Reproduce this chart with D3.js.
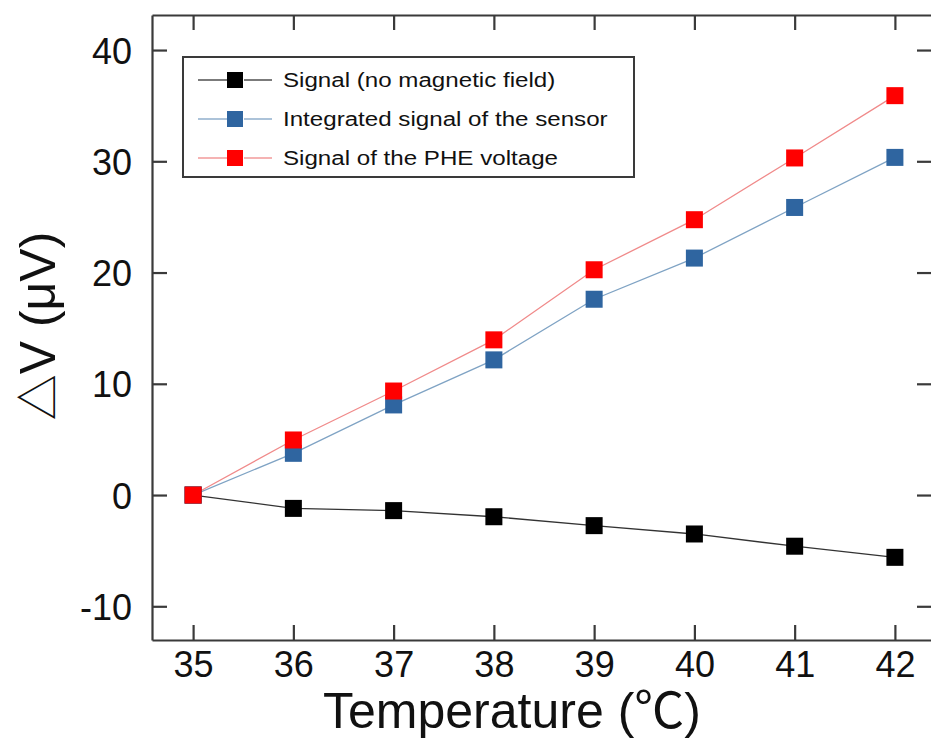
<!DOCTYPE html>
<html>
<head>
<meta charset="utf-8">
<script src="https://cdn.jsdelivr.net/npm/d3@7"></script>
<style>
  body { margin: 0; background: #fff; }
  svg { display: block; }
  text { font-family: "Liberation Sans", Arial, sans-serif; fill: #111; }
  .cjk { font-family: "Noto Sans CJK SC", "DejaVu Sans", sans-serif; }
</style>
</head>
<body>
<div id="chart"></div>
<script>
let temps = [35, 36, 37, 38, 39, 40, 41, 42];
let noField = [0, -1.2, -1.4, -1.95, -2.75, -3.5, -4.6, -5.6];
let sensor = [0, 3.75, 8.1, 12.15, 17.6, 21.3, 25.85, 30.35];
let phe = [0, 4.95, 9.35, 13.95, 20.25, 24.75, 30.3, 35.9];
let xTicks = [35, 36, 37, 38, 39, 40, 41, 42];
let yTicks = [-10, 0, 10, 20, 30, 40];
let seriesNames = ["Signal (no magnetic field)", "Integrated signal of the sensor", "Signal of the PHE voltage"];

let series = [
    {name: seriesNames[0], values: noField, marker: "#000000", line: "#333333"},
    {name: seriesNames[1], values: sensor, marker: "#2f65a0", line: "#7fa3c4"},
    {name: seriesNames[2], values: phe, marker: "#ff0000", line: "#f08a8a"}
];

const W = 931, H = 742;
const plot = {left: 152, right: 932, top: 15, bottom: 640};

let svg = d3.select("#chart").append("svg")
    .attr("width", W)
    .attr("height", H);

svg.append("rect").attr("width", W).attr("height", H).attr("fill", "#fff");

const x = d3.scaleLinear().domain([34.59, 42.37]).range([plot.left, plot.right]);
const y = d3.scaleLinear().domain([-13.03, 43.15]).range([plot.bottom, plot.top]);

const axisColor = "#3a3a3a";
const tickLen = 15;
const plain = function (d) { return String(d); };

// frame axes, ticks pointing inward
let gx = svg.append("g")
    .attr("transform", "translate(0," + plot.bottom + ")")
    .call(d3.axisBottom(x).tickValues(xTicks).tickFormat(plain).tickSizeInner(-tickLen).tickSizeOuter(0).tickPadding(11));
let gxTop = svg.append("g")
    .attr("transform", "translate(0," + plot.top + ")")
    .call(d3.axisTop(x).tickValues(xTicks).tickSizeInner(-tickLen).tickSizeOuter(0).tickFormat(""));
let gy = svg.append("g")
    .attr("transform", "translate(" + plot.left + ",0)")
    .call(d3.axisLeft(y).tickValues(yTicks).tickFormat(plain).tickSizeInner(-tickLen).tickSizeOuter(0).tickPadding(20));
let gyRight = svg.append("g")
    .attr("transform", "translate(" + plot.right + ",0)")
    .call(d3.axisRight(y).tickValues(yTicks).tickSizeInner(-tickLen).tickSizeOuter(0).tickFormat(""));

[gx, gxTop, gy, gyRight].forEach(function (g) {
    g.select(".domain").attr("stroke", axisColor).attr("stroke-width", 2.2);
    g.selectAll(".tick line").attr("stroke", axisColor).attr("stroke-width", 2.2);
});

gx.selectAll(".tick text")
    .attr("font-size", 36)
    .attr("fill", "#111")
    .attr("font-family", "Liberation Sans, Arial, sans-serif");
gy.selectAll(".tick text")
    .attr("font-size", 36)
    .attr("fill", "#111")
    .attr("dy", "0.36em")
    .attr("font-family", "Liberation Sans, Arial, sans-serif");

// axis titles
let xTitle = svg.append("text")
    .attr("x", 512)
    .attr("y", 728)
    .attr("text-anchor", "middle")
    .attr("font-size", 50);
xTitle.append("tspan").text("Temperature (");
xTitle.append("tspan").attr("class", "cjk").text("℃");
xTitle.append("tspan").text(")");

let yTitle = svg.append("text")
    .attr("transform", "translate(55,326) rotate(-90)")
    .attr("text-anchor", "middle")
    .attr("font-size", 50);
yTitle.append("tspan").attr("class", "cjk").attr("font-size", 46).text("△");
yTitle.append("tspan").text("V  (μV)");

// lines and markers
const line = d3.line()
    .x(function (d, i) { return x(temps[i]); })
    .y(function (d) { return y(d); });

const ms = 17;
series.forEach(function (s) {
    svg.append("path")
        .datum(s.values)
        .attr("fill", "none")
        .attr("stroke", s.line)
        .attr("stroke-width", 1.3)
        .attr("d", line);
});
series.forEach(function (s) {
    svg.append("g").selectAll("rect")
        .data(s.values)
        .enter().append("rect")
        .attr("x", function (d, i) { return x(temps[i]) - ms / 2; })
        .attr("y", function (d) { return y(d) - ms / 2; })
        .attr("width", ms)
        .attr("height", ms)
        .attr("fill", s.marker);
});

// legend
let legend = svg.append("g").attr("transform", "translate(183,57)");
legend.append("rect")
    .attr("width", 451)
    .attr("height", 120)
    .attr("fill", "#fff")
    .attr("stroke", axisColor)
    .attr("stroke-width", 2);
series.forEach(function (s, i) {
    let row = legend.append("g").attr("transform", "translate(0," + (23 + i * 39) + ")");
    row.append("line").attr("x1", 15).attr("x2", 44).attr("stroke", s.line).attr("stroke-width", 1.3);
    row.append("line").attr("x1", 61).attr("x2", 89).attr("stroke", s.line).attr("stroke-width", 1.3);
    row.append("rect").attr("x", 44).attr("y", -8).attr("width", 16).attr("height", 16).attr("fill", s.marker);
    row.append("text")
        .attr("transform", "translate(100,7) scale(1.15,1)")
        .attr("font-size", 21)
        .text(s.name);
});
</script>
</body>
</html>
